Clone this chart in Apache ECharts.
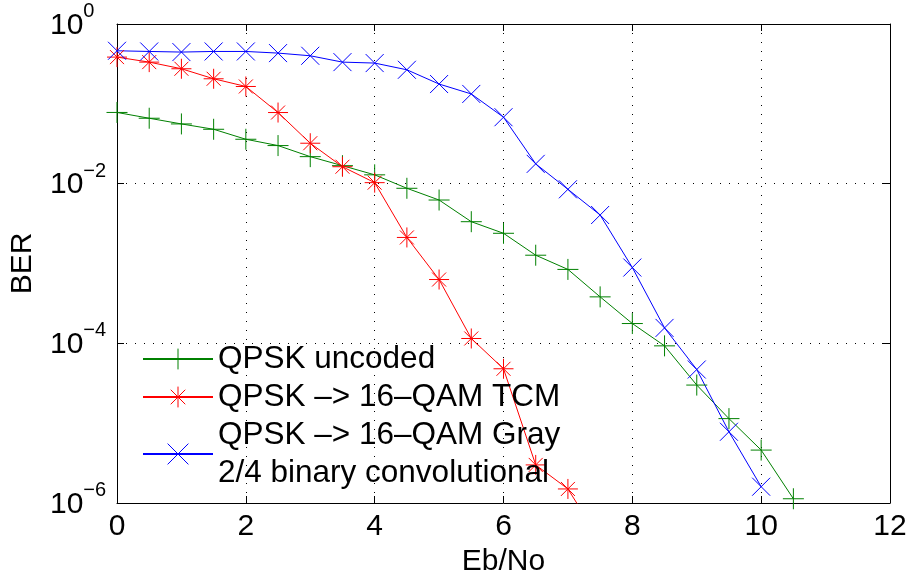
<!DOCTYPE html>
<html>
<head>
<meta charset="utf-8">
<script src="https://cdn.jsdelivr.net/npm/echarts@6/dist/echarts.min.js"></script>
<style>
  html, body { margin: 0; padding: 0; background: #fff; }
  #chart { width: 911px; height: 577px; }
</style>
</head>
<body>
<div id="chart"></div>
<script>
// ---- Data ----
const ebnoUncoded = [0, 0.5, 1, 1.5, 2, 2.5, 3, 3.5, 4, 4.5, 5, 5.5, 6, 6.5, 7, 7.5, 8, 8.5, 9, 9.5, 10, 10.5];
const berUncoded  = [0.078, 0.066, 0.056, 0.048, 0.036, 0.030, 0.0218, 0.0168, 0.0129, 0.00875, 0.00624, 0.00334, 0.00239, 0.00127, 0.000843, 0.000382, 0.000177, 9.3e-5, 3.0e-5, 1.14e-5, 4.6e-6, 1.13e-6];

const ebnoTCM = [0, 0.5, 1, 1.5, 2, 2.5, 3, 3.5, 4, 4.5, 5, 5.5, 6, 6.5, 7, 7.5];
const berTCM  = [0.385, 0.333, 0.275, 0.206, 0.165, 0.0778, 0.0321, 0.0163, 0.0103, 0.00212, 0.00063, 0.000115, 4.8e-5, 3.0e-6, 1.5e-6, 3.4e-7];

const ebnoGray = [0, 0.5, 1, 1.5, 2, 2.5, 3, 3.5, 4, 4.5, 5, 5.5, 6, 6.5, 7, 7.5, 8, 8.5, 9, 9.5, 10];
const berGray  = [0.462, 0.453, 0.445, 0.453, 0.453, 0.432, 0.40, 0.333, 0.324, 0.267, 0.177, 0.133, 0.068, 0.0177, 0.0085, 0.00405, 0.00089, 0.000156, 4.7e-5, 7.8e-6, 1.6e-6];

const seriesNames = [
  'QPSK uncoded',
  'QPSK –> 16–QAM TCM',
  'QPSK –> 16–QAM Gray\n2/4 binary convolutional'
];
const xTicks = [0, 2, 4, 6, 8, 10, 12];
const yTicks = [1, 1e-2, 1e-4, 1e-6];

// ---- Chart ----
const FONT = "'Liberation Sans', Arial, Helvetica, sans-serif";
const chart = echarts.init(document.getElementById('chart'), null, { renderer: 'canvas' });

function pairs(xs, ys) { return xs.map((x, i) => [x, ys[i]]); }

const PLUS = 'path://M5,0L5,10M0,5L10,5';
const STAR = 'path://M5,0L5,10M0,5L10,5M1.5,1.5L8.5,8.5M8.5,1.5L1.5,8.5';
const CROSS = 'path://M0,0L10,10M10,0L0,10';

function mkSeries(name, data, color, symbol, size) {
  return {
    name: name,
    type: 'line',
    data: data,
    xAxisIndex: 0,
    yAxisIndex: 0,
    symbol: symbol,
    symbolSize: size,
    showAllSymbol: true,
    clip: true,
    lineStyle: { color: color, width: 1 },
    itemStyle: { color: color, borderColor: color, borderWidth: 1 },
    emphasis: { disabled: true }
  };
}

const frame = { show: true, onZero: false, lineStyle: { color: '#000', width: 1 } };
const tickIn = { show: true, inside: true, length: 7, lineStyle: { color: '#000', width: 1 } };
const dotted = { show: true, lineStyle: { color: '#000', width: 1, type: [1, 8] } };

const option = {
  animation: false,
  backgroundColor: '#fff',
  textStyle: { fontFamily: FONT },
  grid: { left: 117, right: 21, top: 24, bottom: 74, containLabel: false, outerBoundsMode: 'none' },
  legend: {
    orient: 'vertical',
    left: 142,
    top: 340,
    itemWidth: 70,
    itemHeight: 26,
    itemGap: 0,
    padding: 0,
    selectedMode: false,
    itemStyle: { borderWidth: 1 },
    textStyle: { fontFamily: FONT, fontSize: 31.5, color: '#000', lineHeight: 38 },
    data: seriesNames
  },
  xAxis: [
    {
      type: 'value', position: 'bottom', min: 0, max: 12, interval: 2,
      name: 'Eb/No', nameLocation: 'middle', nameGap: 41,
      nameTextStyle: { fontFamily: FONT, fontSize: 30, color: '#000' },
      axisLine: frame, axisTick: tickIn,
      axisLabel: { fontFamily: FONT, fontSize: 30, color: '#000', margin: 9,
                   showMinLabel: true, showMaxLabel: true },
      splitLine: dotted
    },
    {
      type: 'value', position: 'top', min: 0, max: 12, interval: 2,
      axisLine: frame, axisTick: tickIn, axisLabel: { show: false }, splitLine: { show: false }
    }
  ],
  yAxis: [
    {
      type: 'log', logBase: 100, position: 'left', min: 1e-6, max: 1,
      name: 'BER', nameLocation: 'middle', nameGap: 79,
      nameTextStyle: { fontFamily: FONT, fontSize: 30, color: '#000' },
      axisLine: frame, axisTick: tickIn,
      axisLabel: {
        align: 'left', margin: 67, padding: [0, 0, 6, 0],
        showMinLabel: true, showMaxLabel: true,
        formatter: function (v) {
          const e = Math.round(Math.log10(v));
          const s = e < 0 ? '\u2212' + (-e) : String(e);
          return '{b|10}{s|' + s + '}';
        },
        rich: {
          b: { fontFamily: FONT, fontSize: 30, color: '#000', lineHeight: 39, verticalAlign: 'bottom' },
          s: { fontFamily: FONT, fontSize: 20, color: '#000', verticalAlign: 'top' }
        }
      },
      splitLine: dotted
    },
    {
      type: 'log', logBase: 100, position: 'right', min: 1e-6, max: 1,
      axisLine: frame, axisTick: tickIn, axisLabel: { show: false }, splitLine: { show: false }
    }
  ],
  series: [
    mkSeries(seriesNames[0], pairs(ebnoUncoded, berUncoded), '#008000', PLUS, 21),
    mkSeries(seriesNames[1], pairs(ebnoTCM, berTCM), '#ff0000', STAR, 20),
    mkSeries(seriesNames[2], pairs(ebnoGray, berGray), '#0000ff', CROSS, 18)
  ]
};

chart.setOption(option);
</script>
</body>
</html>
